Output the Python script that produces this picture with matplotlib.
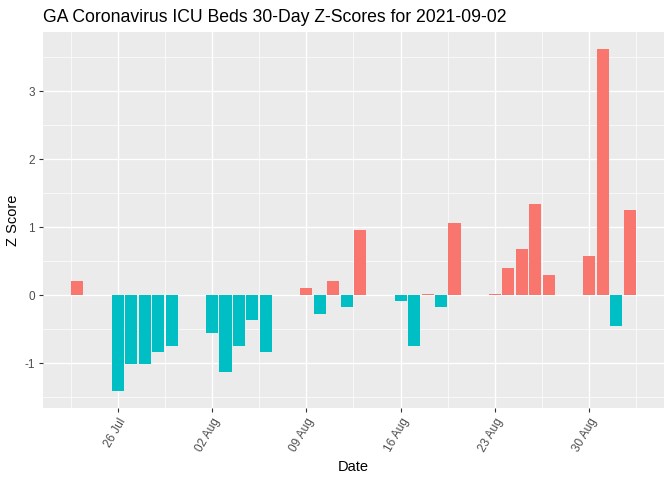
import numpy as np
import pandas as pd
import matplotlib
matplotlib.use("Agg")
from matplotlib import pyplot as plt
import matplotlib.dates as mdates
from matplotlib.ticker import FixedLocator

plt.rcParams['font.family'] = ['Liberation Sans', 'DejaVu Sans']
plt.rcParams['axes.unicode_minus'] = False

# weekday dates in the 30-day window
dates = pd.bdate_range("2021-07-23", "2021-09-02")
z_scores = [0.21,
            -1.41, -1.02, -1.02, -0.84, -0.745,
            -0.554, -1.127, -0.745, -0.363, -0.84,
            0.103, -0.28, 0.21, -0.17, 0.956,
            -0.083, -0.745, 0.015, -0.17, 1.06,
            0.015, 0.397, 0.676, 1.338, 0.294,
            0.574, 3.618, -0.45, 1.25]
tick_dates = pd.to_datetime(["2021-07-26", "2021-08-02", "2021-08-09",
                             "2021-08-16", "2021-08-23", "2021-08-30"])

x = mdates.date2num(dates)
z = np.array(z_scores)
colors = np.where(z > 0, '#F8766D', '#00BFC4')

fig = plt.figure(figsize=(6.72, 4.8), dpi=100)
ax = fig.add_axes([0.064, 0.15, 0.924, 0.783])
ax.set_facecolor('#EBEBEB')
ax.bar(x, z, width=0.9, color=colors, zorder=3)

# ggplot-like expansion
lo, hi = x.min() - 0.45, x.max() + 0.45
pad = (hi - lo) * 0.05
ax.set_xlim(lo - pad, hi + pad)
ymin, ymax = min(z.min(), 0), max(z.max(), 0)
ypad = (ymax - ymin) * 0.05
ax.set_ylim(ymin - ypad, ymax + ypad)

major_x = mdates.date2num(tick_dates)
minor_x = np.concatenate([[major_x[0] - 3.5], major_x + 3.5])
ax.xaxis.set_major_locator(FixedLocator(major_x))
ax.xaxis.set_minor_locator(FixedLocator(minor_x))
ax.set_xticklabels([d.strftime("%d %b") for d in tick_dates],
                   rotation=60, ha='right', va='top', rotation_mode='anchor')
ax.yaxis.set_major_locator(FixedLocator([-1, 0, 1, 2, 3]))
ax.yaxis.set_minor_locator(FixedLocator([-1.5, -0.5, 0.5, 1.5, 2.5, 3.5]))

ax.grid(True, which='major', color='white', linewidth=1.0, zorder=1)
ax.grid(True, which='minor', color='white', linewidth=0.5, zorder=1)
ax.set_axisbelow(True)
for s in ax.spines.values():
    s.set_visible(False)
ax.tick_params(which='major', length=3, width=0.8, color='#333333',
               labelsize=8.5, labelcolor='#4D4D4D', pad=3)
ax.tick_params(which='minor', length=0)

ax.set_xlabel("Date", fontsize=10.5, labelpad=4)
ax.set_ylabel("Z Score", fontsize=10.5, labelpad=3)
ax.set_title("GA Coronavirus ICU Beds 30-Day Z-Scores for 2021-09-02",
             fontsize=12.7, loc='left', x=0.0, pad=7)

fig.savefig("out.png", dpi=100)
